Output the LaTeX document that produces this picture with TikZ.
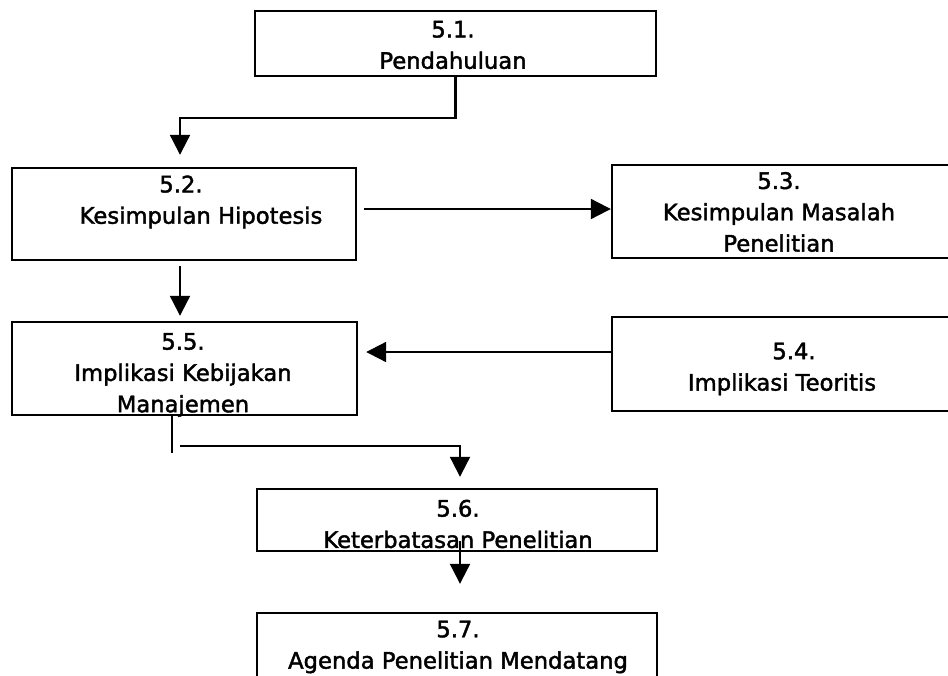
\documentclass[tikz,border=0pt]{standalone}
\usepackage{fontspec}
\setmainfont{DejaVu Sans}
\newfontfamily\labelfont{DejaVu Sans}[FakeBold=1.8]
\usetikzlibrary{arrows.meta,calc}
\begin{document}
\begin{tikzpicture}[x=0.75pt,y=-0.75pt,
  box/.style={draw,line width=1.8pt,rectangle,inner sep=0pt},
  txt/.style={align=center,inner sep=0pt,font=\labelfont\fontsize{17}{23.5}\selectfont},
  link/.style={line width=1.6pt},
  arr/.style={link,-{Triangle[length=15pt,width=15pt]}}]
\useasboundingbox (0,0) rectangle (948,675);
\clip (0,0) rectangle (948,675);

% boxes (centres in px, y downwards)
\node[box,minimum width=401*0.75pt,minimum height=65*0.75pt] (b1) at (455.5,43.5) {};
\node[box,minimum width=344*0.75pt,minimum height=92*0.75pt] (b2) at (184,214) {};
\node[box,minimum width=350*0.75pt,minimum height=93*0.75pt] (b3) at (787,211.5) {};
\node[box,minimum width=350*0.75pt,minimum height=94*0.75pt] (b4) at (787,364) {};
\node[box,minimum width=345*0.75pt,minimum height=93*0.75pt] (b5) at (184.5,368.5) {};
\node[box,minimum width=400*0.75pt,minimum height=62*0.75pt] (b6) at (457,520) {};
\node[box,minimum width=400*0.75pt,minimum height=87*0.75pt] (b7) at (457,656.5) {};

% labels
\node[txt] (t1) at (453,45) {5.1.\\Pendahuluan};
\node[txt] (t2) at (181,202) {5.2.\\\hspace*{30pt}Kesimpulan Hipotesis};
\node[txt] (t3) at (779,212) {5.3.\\Kesimpulan Masalah\\Penelitian};
\node[txt] (t4) at (782,369) {\hspace*{18pt}5.4.\\Implikasi Teoritis};
\node[txt] (t5) at (183,375) {5.5.\\Implikasi Kebijakan\\Manajemen};
\node[txt] (t6) at (458,524) {5.6.\\Keterbatasan Penelitian};
\node[txt] (t7) at (458,647) {5.7.\\Agenda Penelitian Mendatang};

% connectors
\draw[arr] (b1.south) -- ++(0,41) -| ($(b2.north)+(-4,-12)$);
\draw[arr] ($(b2.east)+(7,-5)$) -- ($(b3.west)+(0,-2.5)$);
\draw[arr] ($(b4.west)+(0,-12)$) -- ($(b5.east)+(8,-16.5)$);
\draw[arr] ($(b2.south)+(-4,5)$) -- ($(b5.north)+(-4.5,-5)$);
\draw[link] ($(b5.south)+(-12.5,0)$) -- ++(0,37);
\draw[arr] ($(b5.south)+(-4.5,30)$) -| ($(b6.north)+(3,-11)$);
\draw[arr] ($(b6.south)+(3,-11)$) -- ($(b7.north)+(3,-28)$);
\end{tikzpicture}
\end{document}
